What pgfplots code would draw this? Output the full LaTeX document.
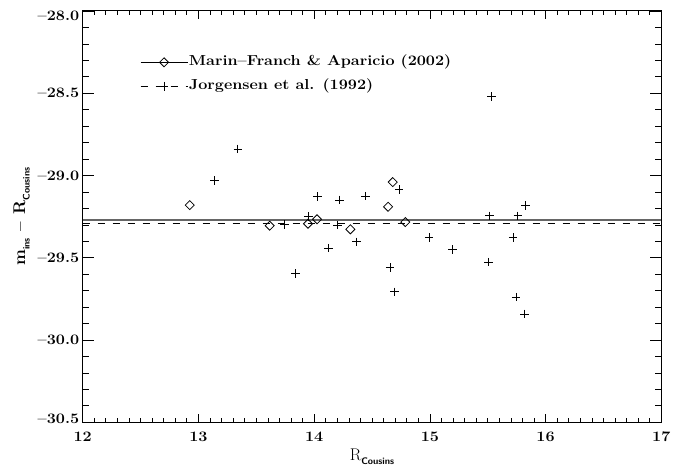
\documentclass[border=0pt]{standalone}
\usepackage{fontspec}
\usepackage{pgfplots}
\pgfplotsset{compat=1.18}

% slightly widened roman for tick labels and legend
\newfontfamily\idlfont{Latin Modern Roman}[Ligatures=TeX, FakeStretch=1.12]
% small bold sans subscripts used in the axis titles
\newcommand{\lowsub}[1]{\raisebox{-4.5bp}{\fontsize{9.5}{10}\selectfont\sffamily\bfseries #1}}

\begin{document}
\begin{tikzpicture}
\path[use as bounding box] (-82.7bp,-44.7bp) rectangle (597.3bp,422.3bp);
\begin{axis}[
  at={(0,0)}, anchor=south west,
  scale only axis, width=578.6bp, height=411.3bp,
  xmin=12, xmax=17, ymin=-30.5, ymax=-28,
  xtick={12,13,14,15,16,17},
  xticklabels={12,13,14,15,16,17},
  ytick={-30.5,-30,-29.5,-29,-28.5,-28},
  yticklabels={\raisebox{3bp}[\height][\depth]{--30.5},--30.0,--29.5,--29.0,--28.5,\raisebox{-5bp}[\height][\depth]{--28.0}},
  minor x tick num=9, minor y tick num=4,
  tick align=inside,
  x tick style={/pgfplots/major tick length=8bp, /pgfplots/minor tick length=4bp, line width=0.7bp, black},
  y tick style={/pgfplots/major tick length=11.5bp, /pgfplots/minor tick length=6bp, line width=0.7bp, black},
  ticklabel style={font=\idlfont\fontsize{14.5}{16}\selectfont\bfseries},
  x tick label style={yshift=-6bp},
  axis line style={line width=1bp},
  xlabel={R\lowsub{Cousins}},
  xlabel style={font=\fontsize{17}{18}\selectfont, at={(axis description cs:0.5,-0.0917)}, anchor=base},
  ylabel={m\lowsub{ins}\hspace{7bp}--\hspace{7bp}R\lowsub{Cousins}},
  ylabel style={font=\fontsize{17}{18}\selectfont\bfseries, at={(axis description cs:-0.0997,0.5)}, anchor=base, rotate=0},
  legend style={draw=none, fill=none, at={(axis description cs:0.099,0.894)}, anchor=north west,
    inner sep=0pt, row sep=9bp,
    nodes={inner sep=1bp, text height=10bp, text depth=3bp, font=\idlfont\fontsize{14.5}{16}\selectfont\bfseries}},
  legend cell align=left,
  legend image code/.code={\draw[mark repeat=2,mark phase=2,#1] plot coordinates {(0bp,0bp) (23.5bp,0bp) (47bp,0bp)};},
]
% mean offsets
\addplot[forget plot, black!60, line width=1.2bp] coordinates {(12,-29.27) (17,-29.27)};
\addplot[forget plot, black, line width=0.8bp, dash pattern=on 7.5bp off 7.5bp] coordinates {(12,-29.29) (17,-29.29)};

% Marin-Franch & Aparicio (2002)
\addplot[forget plot, only marks, mark=square, mark size=3.2bp, mark options={rotate=45, line width=0.8bp, black}] coordinates {
(12.925,-29.18) (13.616,-29.305) (13.947,-29.293) (14.025,-29.266)
(14.313,-29.327) (14.639,-29.19) (14.679,-29.04) (14.788,-29.283)
};

% Jorgensen et al. (1992)
\addplot[forget plot, only marks, mark=+, mark size=4.3bp, mark options={line width=1bp, black}] coordinates {
(13.138,-29.032) (13.342,-28.839) (13.743,-29.297) (13.841,-29.597)
(13.953,-29.25) (14.028,-29.129) (14.126,-29.441) (14.204,-29.301)
(14.218,-29.149) (14.368,-29.404) (14.446,-29.125) (14.656,-29.56)
(14.693,-29.708) (14.734,-29.084) (14.993,-29.376) (15.198,-29.449)
(15.509,-29.526) (15.514,-29.246) (15.535,-28.519) (15.719,-29.378)
(15.745,-29.739) (15.76,-29.246) (15.82,-29.842) (15.829,-29.183)
};

\addlegendimage{black, line width=0.8bp, mark=square, mark options={rotate=45, solid, mark size=3.2bp}}
\addlegendentry{Marin--Franch \& Aparicio (2002)}
\addlegendimage{black, line width=0.8bp, dash pattern=on 7.5bp off 7.5bp, mark=+, mark options={solid, mark size=4.3bp, line width=1bp}}
\addlegendentry{Jorgensen et al. (1992)}
\end{axis}
\end{tikzpicture}
\end{document}
